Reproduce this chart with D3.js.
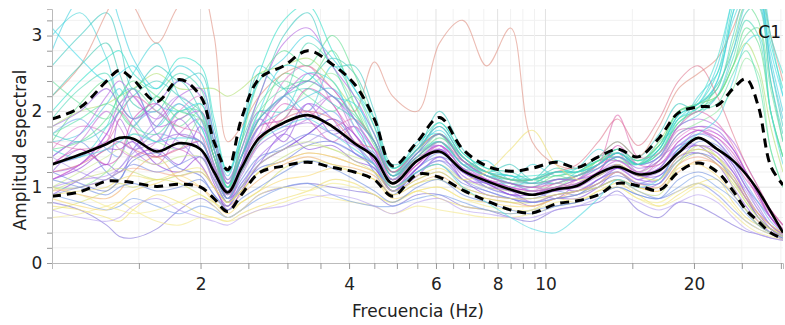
<!DOCTYPE html>
<html><head><meta charset="utf-8">
<script src="https://cdn.jsdelivr.net/npm/d3@7"></script>
<style>body{margin:0;background:#fff}svg{display:block}</style>
</head><body><svg id="c" width="785" height="325"></svg>
<script>
const freqs = [1.0,1.14,1.29,1.37,1.46,1.63,1.81,2.0,2.13,2.27,2.42,2.63,2.95,3.3,3.7,4.1,4.5,4.9,5.5,6.1,6.8,7.6,8.5,9.4,10.5,11.6,12.8,14.0,15.4,17.0,18.6,20.4,22.3,24.0,25.5,27.0,28.6,30.3];
const meanCurve  = [1.30,1.43,1.57,1.65,1.64,1.47,1.58,1.50,1.20,0.93,1.25,1.65,1.85,1.95,1.80,1.58,1.40,1.05,1.35,1.47,1.22,1.08,0.97,0.90,0.97,1.02,1.18,1.27,1.17,1.22,1.45,1.65,1.50,1.35,1.17,0.95,0.68,0.40];
const upperCurve = [1.90,2.05,2.40,2.54,2.42,2.13,2.42,2.20,1.60,1.23,1.90,2.43,2.60,2.80,2.62,2.36,1.90,1.28,1.60,1.92,1.50,1.28,1.21,1.25,1.33,1.26,1.40,1.50,1.40,1.65,1.98,2.06,2.08,2.30,2.43,2.07,1.28,1.03];
const lowerCurve = [0.88,0.94,1.08,1.08,1.06,1.01,1.04,1.00,0.85,0.68,0.90,1.19,1.28,1.33,1.26,1.20,1.10,0.88,1.17,1.13,0.96,0.82,0.70,0.66,0.78,0.82,0.90,1.05,1.02,0.96,1.20,1.32,1.20,0.95,0.70,0.55,0.40,0.32];
const traceValues = [
[3.0,3.3,2.7,2.2,2.5,2.9,2.2,1.9,1.4,1.0,1.7,2.6,2.3,2.0,2.6,2.2,1.6,1.15,1.6,1.7,1.3,1.35,1.1,1.3,1.15,1.25,1.5,1.35,1.3,1.6,1.8,2.2,2.5,3.2,3.6,3.8,3.0,2.2],
[2.6,3.0,3.3,2.9,2.3,2.6,2.4,2.5,1.8,1.2,1.6,2.2,3.0,3.3,2.6,2.6,2.0,1.3,1.5,2.0,1.5,1.2,1.3,1.1,1.35,1.25,1.4,1.6,1.4,1.7,2.1,2.0,2.4,3.3,3.7,3.6,2.6,1.8],
[1.2,1.5,1.3,1.9,1.6,1.4,1.9,1.5,1.1,0.8,1.3,1.9,1.6,2.1,1.7,1.8,1.3,0.95,1.35,1.55,1.1,1.05,0.9,0.95,0.85,1.05,1.15,1.25,1.1,1.25,1.55,1.55,1.35,1.15,0.85,0.65,0.5,0.35],
[0.8,0.7,0.5,0.35,0.33,0.45,0.7,0.85,0.75,0.6,0.7,0.9,1.0,1.05,1.0,0.95,0.9,0.75,0.9,0.9,0.75,0.7,0.6,0.55,0.7,0.75,0.8,0.95,0.7,0.6,0.8,0.75,0.62,0.5,0.42,0.38,0.33,0.3],
[1.6,2.1,2.4,2.0,1.8,2.2,1.9,2.1,1.5,1.0,1.4,1.9,2.5,2.4,2.8,2.1,1.55,1.2,1.4,1.65,1.4,1.15,1.05,1.0,1.15,1.1,1.35,1.35,1.3,1.45,1.85,2.05,2.3,2.9,3.4,3.2,2.0,1.4],
[0.75,0.7,0.6,0.55,0.7,0.9,0.8,0.65,0.6,0.55,0.65,0.75,0.85,0.95,1.1,1.05,0.9,0.8,0.95,0.85,0.75,0.7,0.65,0.7,0.85,0.8,0.95,1.05,0.9,0.75,0.9,1.05,1.1,0.8,0.6,0.5,0.45,0.4],
[1.4,1.6,1.2,1.1,1.5,1.8,2.1,1.7,1.2,0.85,1.1,1.4,1.5,1.7,1.9,1.6,1.2,0.9,1.25,1.4,1.25,1.0,0.9,0.85,0.95,0.9,1.1,1.2,1.05,1.15,1.35,1.6,1.55,1.3,1.0,0.8,0.6,0.45],
[1.1,1.3,1.6,2.0,1.8,1.4,1.5,1.3,1.0,0.75,1.2,1.6,2.1,1.9,1.6,1.8,1.5,1.1,1.4,1.45,1.35,1.1,1.0,0.9,1.05,1.0,1.2,1.45,1.15,1.35,1.75,1.75,1.6,1.35,1.1,0.9,0.7,0.5],
[1.8,2.0,2.1,2.2,2.3,2.5,2.3,2.3,2.3,2.2,2.3,2.5,2.6,2.7,2.4,2.0,1.6,1.2,1.5,1.7,1.4,1.2,1.1,1.1,1.2,1.2,1.35,1.45,1.3,1.6,2.0,2.1,2.2,2.6,2.9,2.6,1.8,1.2],
[2.2,2.6,3.3,3.6,3.4,2.9,3.4,3.6,3.0,1.6,1.8,2.2,2.5,2.6,2.3,2.0,2.65,2.2,2.0,2.9,3.2,2.6,3.1,1.6,1.3,1.25,1.4,1.6,1.4,1.8,2.3,2.5,2.7,3.1,3.5,3.6,3.0,2.4],
[1.5,1.4,1.8,2.2,2.3,1.8,2.1,1.8,1.3,0.95,1.5,2.0,2.0,2.5,2.4,1.8,1.4,1.1,1.45,1.6,1.25,1.2,1.0,1.1,1.05,1.2,1.35,1.4,1.3,1.55,1.9,2.15,2.7,3.5,4.0,3.8,3.0,2.5],
[0.9,1.1,1.3,1.2,1.4,1.5,1.3,1.8,1.4,0.85,1.0,1.3,1.7,1.5,1.55,1.35,1.25,0.95,1.15,1.4,1.1,0.9,0.85,0.75,0.85,0.85,1.0,1.2,1.0,1.05,1.4,1.45,1.3,1.0,0.75,0.55,0.4,0.3],
[1.3,1.6,2.0,1.8,1.5,1.3,1.7,1.9,1.4,0.95,1.4,2.0,1.8,1.9,2.2,1.7,1.35,1.1,1.3,1.6,1.3,1.1,1.05,0.95,1.1,1.1,1.3,1.5,1.2,1.4,1.55,1.7,1.65,1.4,1.2,0.9,0.6,0.4],
[2.2,2.6,2.9,2.5,2.1,2.0,2.4,2.0,1.4,1.05,1.6,2.5,2.3,2.4,2.7,2.5,1.9,1.2,1.45,1.85,1.45,1.25,1.2,1.1,1.25,1.2,1.4,1.45,1.35,1.55,2.0,2.1,2.35,2.8,3.3,3.4,2.4,1.6],
[0.6,0.65,0.75,0.8,0.7,0.55,0.5,0.6,0.6,0.55,0.6,0.7,0.8,0.9,0.85,0.8,0.75,0.65,0.75,0.7,0.65,0.6,0.6,0.65,0.75,0.8,0.95,1.0,0.85,0.75,0.85,1.0,0.85,0.65,0.5,0.4,0.35,0.3],
[1.0,0.9,0.85,0.95,1.2,1.4,1.1,1.0,0.85,0.75,0.9,1.1,1.3,1.4,1.3,1.25,1.15,0.9,1.05,1.15,0.95,0.85,0.8,0.75,0.85,0.95,1.0,1.1,1.0,0.95,1.2,1.35,1.3,1.1,0.85,0.6,0.45,0.35],
[1.7,1.9,1.5,1.4,1.8,2.0,1.7,1.6,1.2,0.9,1.4,1.8,2.2,1.9,2.0,1.6,1.3,1.0,1.25,1.45,1.2,1.05,1.05,0.95,1.0,1.1,1.15,1.3,1.15,1.25,1.55,1.7,1.6,1.35,1.05,0.8,0.55,0.4],
[1.0,1.0,1.2,1.4,1.7,1.6,1.5,1.9,1.6,1.0,1.2,1.6,1.9,2.3,2.5,2.1,1.6,1.05,1.35,1.6,1.3,1.15,1.05,1.0,1.0,1.15,1.25,1.4,1.2,1.35,1.7,1.85,2.0,2.3,2.7,2.5,1.5,1.0],
[3.1,2.7,2.4,2.5,2.6,2.1,2.0,2.1,1.5,1.0,1.4,2.0,2.6,2.5,2.2,2.1,1.7,1.2,1.5,1.75,1.35,1.15,1.15,1.05,1.2,1.2,1.3,1.45,1.3,1.4,1.9,2.05,2.4,3.3,3.8,3.6,2.8,2.2],
[1.2,1.3,1.7,2.0,2.3,1.7,1.5,1.6,1.15,0.8,1.0,1.4,1.7,2.1,1.9,1.45,1.3,0.95,1.25,1.5,1.15,1.0,0.95,0.8,0.9,0.95,1.05,1.25,1.1,1.1,1.5,1.55,1.5,1.25,0.9,0.6,0.45,0.35],
[1.0,1.1,1.15,1.25,1.5,1.9,2.2,1.9,1.3,0.85,1.3,1.7,1.8,2.0,2.2,1.8,1.5,1.1,1.45,1.55,1.3,1.1,0.95,1.0,0.95,1.05,1.2,1.3,1.15,1.3,1.5,1.75,1.6,1.3,1.0,0.7,0.5,0.38],
[0.7,0.8,0.95,1.05,1.0,1.1,1.05,0.9,0.8,0.7,0.8,0.95,1.25,1.35,1.3,1.2,1.1,0.9,1.05,1.1,0.95,0.85,0.8,0.8,0.9,0.95,1.05,1.2,1.0,1.0,1.3,1.45,1.3,1.05,0.8,0.6,0.45,0.38],
[0.9,0.8,0.7,0.75,0.85,0.75,0.65,0.75,0.7,0.6,0.7,0.85,1.0,1.05,0.9,0.8,0.75,0.75,0.85,0.9,0.8,0.7,0.65,0.7,0.75,0.8,0.9,1.0,0.9,0.85,1.0,1.15,1.0,0.85,0.65,0.5,0.4,0.33],
[1.5,1.8,1.7,1.5,1.4,1.6,2.0,2.2,1.7,1.05,1.3,1.7,2.4,2.6,2.1,1.7,1.35,1.0,1.3,1.5,1.2,1.1,0.95,1.0,0.95,1.1,1.3,1.35,1.2,1.35,1.65,1.8,1.7,1.5,1.2,0.9,0.6,0.4],
[1.9,2.3,2.5,2.1,1.9,2.2,2.5,2.3,1.6,1.1,1.4,1.9,2.2,2.9,2.6,2.0,1.6,1.15,1.5,1.7,1.4,1.2,1.15,1.05,1.2,1.2,1.3,1.5,1.3,1.45,1.9,2.0,2.2,2.7,3.2,3.0,2.0,1.4],
[1.4,1.2,1.1,1.25,1.45,1.7,1.6,1.3,1.0,0.75,1.05,1.3,1.5,1.6,1.75,1.55,1.3,1.0,1.2,1.35,1.2,1.0,0.9,0.8,0.9,0.95,1.1,1.2,1.05,1.1,1.4,1.5,1.4,1.2,0.95,0.7,0.5,0.38],
[2.4,2.1,1.9,2.1,2.3,2.0,1.8,2.0,1.4,0.95,1.5,2.1,2.4,2.2,2.0,2.2,1.7,1.15,1.4,1.7,1.35,1.15,1.05,1.1,1.05,1.15,1.35,1.4,1.3,1.5,2.0,2.1,2.2,2.6,3.0,3.1,2.3,1.6],
[1.1,1.25,1.5,1.5,1.6,1.3,1.2,1.4,1.05,0.7,0.95,1.3,1.5,1.7,1.9,1.7,1.35,1.0,1.25,1.5,1.2,1.05,0.9,0.9,1.0,0.95,1.1,1.25,1.15,1.15,1.45,1.55,1.45,1.2,0.9,0.65,0.45,0.32],
[1.3,1.5,1.3,1.4,1.9,2.1,1.7,1.6,1.25,0.85,1.3,1.8,1.9,2.3,2.1,1.6,1.4,1.05,1.3,1.55,1.25,1.1,1.0,0.95,1.0,1.1,1.2,1.55,1.3,1.3,1.6,1.75,1.65,1.45,1.15,0.85,0.6,0.42],
[1.6,1.7,2.1,2.3,1.9,1.6,2.0,1.8,1.3,0.9,1.3,1.8,2.0,2.2,2.3,1.9,1.45,1.1,1.4,1.6,1.3,1.2,1.05,1.05,1.05,1.15,1.25,1.4,1.3,1.4,1.8,1.95,2.2,2.8,3.4,3.5,2.6,1.9],
[0.85,0.75,0.7,0.8,0.95,1.05,1.15,1.0,0.8,0.65,0.8,0.95,1.1,1.15,1.25,1.2,1.1,0.85,0.95,1.0,0.85,0.8,0.75,0.75,0.85,0.9,1.0,1.1,1.0,0.95,1.25,1.3,1.15,0.9,0.7,0.55,0.45,0.38],
[1.2,1.05,0.95,1.1,1.35,1.45,1.25,1.15,0.9,0.75,1.0,1.25,1.35,1.55,1.6,1.45,1.25,0.95,1.2,1.3,1.05,0.95,0.85,0.8,0.85,0.9,1.05,1.15,1.05,1.05,1.35,1.45,1.35,1.1,0.85,0.6,0.45,0.35],
[0.95,1.0,1.1,1.2,1.25,1.2,1.15,1.2,1.0,0.8,0.95,1.2,1.35,1.45,1.4,1.3,1.2,0.95,1.1,1.2,1.0,0.9,0.85,0.85,0.9,0.95,1.05,1.2,1.05,1.0,1.3,1.4,1.3,1.1,0.85,0.65,0.5,0.4],
[1.4,1.7,2.2,2.4,2.2,1.9,2.2,2.3,1.7,1.1,1.5,2.2,2.9,3.1,2.6,2.2,1.7,1.2,1.5,1.8,1.4,1.2,1.1,1.05,1.1,1.15,1.3,1.45,1.3,1.4,1.8,1.9,1.8,1.6,1.3,1.0,0.7,0.5],
[2.0,2.4,2.7,2.8,2.5,2.3,2.7,2.6,1.9,1.2,1.7,2.5,3.2,3.4,2.8,2.3,1.9,1.25,1.55,1.85,1.45,1.25,1.15,1.15,1.2,1.25,1.35,1.5,1.35,1.5,1.95,2.1,2.5,3.4,3.9,3.7,2.9,2.3],
[1.0,1.2,1.4,1.5,1.4,1.3,1.4,1.4,1.1,0.8,1.0,1.3,1.5,1.6,1.5,1.4,1.3,1.0,1.2,1.3,1.1,1.0,0.95,0.95,1.0,1.05,1.15,1.3,1.15,1.1,1.35,1.5,1.4,1.1,0.8,0.6,0.45,0.35],
[1.2,1.3,1.5,1.6,1.5,1.4,1.5,1.6,1.2,0.85,1.2,1.6,1.9,2.0,1.9,1.6,1.5,1.2,1.5,1.7,1.35,1.2,1.1,1.1,1.2,1.3,1.6,1.9,1.55,1.9,2.4,2.6,2.2,1.7,1.3,1.0,0.7,0.5],
[0.9,1.0,1.1,1.2,1.3,1.2,1.3,1.4,1.1,0.8,1.05,1.35,1.55,1.7,1.6,1.45,1.3,0.95,1.2,1.35,1.1,0.95,0.85,0.8,0.85,0.9,1.0,1.1,0.95,0.85,0.95,1.05,0.9,0.7,0.55,0.45,0.38,0.32],
[1.7,1.9,2.1,2.0,1.8,1.7,2.0,2.0,1.5,1.0,1.4,2.0,2.3,2.4,2.2,1.95,1.6,1.15,1.45,1.7,1.35,1.2,1.1,1.05,1.1,1.15,1.3,1.45,1.3,1.45,1.85,2.0,2.1,2.5,2.8,2.4,1.5,1.0],
[1.1,1.3,1.7,2.1,2.2,1.8,1.9,2.0,1.5,0.95,1.3,1.8,2.2,2.5,2.3,1.9,1.5,1.05,1.35,1.55,1.25,1.1,1.0,0.95,1.0,1.05,1.2,1.35,1.2,1.25,1.6,1.75,1.7,1.5,1.2,0.9,0.6,0.42],
[0.7,0.6,0.55,0.6,0.75,0.85,0.7,0.6,0.55,0.5,0.6,0.7,0.75,0.85,0.9,0.85,0.75,0.65,0.8,0.85,0.7,0.65,0.6,0.6,0.7,0.75,0.85,0.9,0.8,0.7,0.8,0.9,0.8,0.6,0.45,0.38,0.33,0.3],
[1.0,0.9,0.75,0.7,0.65,0.7,0.8,0.9,0.75,0.6,0.7,0.9,1.0,0.95,1.05,1.0,0.9,0.8,0.95,1.0,0.85,0.75,0.7,0.7,0.8,0.85,0.9,1.0,0.85,0.8,0.95,1.05,0.95,0.75,0.55,0.45,0.38,0.32],
[1.5,1.6,1.9,2.2,2.4,2.2,2.0,1.9,1.4,1.0,1.6,2.4,2.8,2.6,3.0,2.5,1.8,1.25,1.5,1.8,1.4,1.2,1.1,1.1,1.15,1.2,1.35,1.5,1.35,1.55,2.0,2.05,2.2,2.6,3.1,2.9,2.0,1.4],
[1.1,1.0,0.9,1.0,1.05,0.95,1.0,1.1,0.9,0.7,0.85,1.0,1.2,1.35,1.25,1.1,0.95,0.8,1.0,1.1,0.9,0.8,0.7,0.65,0.75,0.8,0.9,1.0,0.9,0.85,1.1,1.2,1.1,0.9,0.7,0.5,0.4,0.33],
[1.3,1.4,1.6,1.6,1.5,1.6,1.7,1.6,1.25,0.85,1.15,1.55,1.75,1.85,1.7,1.55,1.45,1.05,1.35,1.5,1.2,1.05,0.95,0.9,0.95,1.0,1.15,1.3,1.15,1.2,1.5,1.65,1.5,1.3,1.0,0.75,0.5,0.38],
[2.8,3.5,3.6,3.2,2.7,2.3,2.6,2.4,1.7,1.15,1.7,2.4,2.7,3.0,2.7,2.3,1.8,1.25,1.5,1.8,1.4,1.2,1.15,1.1,1.2,1.2,1.3,1.45,1.3,1.5,1.95,2.1,2.6,3.5,4.0,3.6,2.7,2.0],
[1.6,1.5,1.6,1.9,2.2,2.0,1.8,1.7,1.3,0.9,1.2,1.6,2.0,2.0,1.8,1.9,1.6,1.1,1.4,1.6,1.35,1.15,1.05,1.0,1.05,1.15,1.3,1.95,1.4,1.45,1.8,2.0,1.85,1.55,1.2,0.9,0.65,0.45],
[0.95,1.1,1.2,1.25,1.2,1.1,1.15,1.2,1.0,0.8,0.95,1.2,1.4,1.55,1.5,1.35,1.2,0.95,1.1,1.2,1.0,0.9,0.85,0.85,0.9,0.95,1.0,1.1,0.95,0.9,1.3,1.55,1.4,1.0,0.7,0.5,0.4,0.35],
[1.8,2.0,2.3,2.1,1.9,2.1,2.4,2.2,1.6,1.05,1.4,1.9,2.2,2.4,2.2,1.9,1.6,1.15,1.45,1.7,1.35,1.15,1.05,1.0,1.1,1.1,1.25,1.4,1.25,1.35,1.7,1.8,1.75,1.5,1.2,0.9,0.6,0.42],
[1.7,1.6,1.8,2.0,2.2,2.4,2.2,2.0,1.5,1.0,1.4,1.9,2.2,2.3,2.1,1.9,1.6,1.15,1.4,1.6,1.3,1.15,1.1,1.1,1.2,1.15,1.3,1.45,1.3,1.5,1.95,2.1,2.3,3.0,3.5,3.4,2.4,1.7],
[0.9,0.95,1.0,1.1,1.15,1.1,1.2,1.25,1.0,0.8,0.95,1.2,1.35,1.45,1.4,1.3,1.2,1.0,1.15,1.25,1.1,1.2,1.5,1.75,1.3,1.1,1.15,1.3,1.15,1.1,1.4,1.5,1.4,1.15,0.9,0.65,0.5,0.4],
[1.3,1.4,1.5,1.6,1.7,1.6,1.65,1.6,1.2,0.85,1.2,1.6,1.8,1.9,1.7,1.5,1.3,1.0,1.2,1.3,1.0,0.8,0.6,0.45,0.4,0.6,0.85,1.1,1.0,1.1,1.5,1.7,1.9,2.4,2.9,3.0,2.0,1.3]
];
const traceColors = ["#48d4d8","#3cc8c0","#9a5ce0","#8070d8","#62dc8c","#f0e070","#6c8ce0","#d860c0","#b0e070","#e09080",
"#44e0d0","#8c50e0","#c070d8","#40c8b0","#f4e88a","#f0b070","#7aa8f0","#90e8a0","#40d8e8","#a060e8",
"#b890f0","#d8e070","#78a0e8","#e080d0","#50d8b8","#a890e8","#70e0a0","#9040d8","#d050b8","#50c8e0",
"#f8d870","#6878e0","#f0a890","#b060e0","#30e0c8","#c8e890","#e07890","#8090e8","#58e0a8","#c060e0",
"#b8a0f0","#f4ec90","#60e090","#7090e0","#a070e0","#40d0e0","#e070b0","#c8e080","#9a60e0","#48d0c0",
"#eee070","#50d8e0"];

const svg = d3.select("#c");
const L = 52, R = 783, T = 9, B = 263;
const x = d3.scaleLog().domain([1, 30.3]).range([L, R]);
const y = d3.scaleLinear().domain([0, 3.35]).range([B, T]);

const xMajor = [2,4,6,8,10,20];
const xMinor = [1.5,2.5,3,3.5,4.5,5,5.5,6.5,7,7.5,8.5,9,9.5,15,25,30];
const yMajor = [0,1,2,3];
const yMinor = d3.range(1, 17).map(i => +(i*0.2).toFixed(1)).filter(v => !yMajor.includes(v));

const g = svg.append("g");
g.selectAll(".gy").data(yMinor).join("line").attr("x1", L).attr("x2", R)
  .attr("y1", d => y(d)).attr("y2", d => y(d)).attr("stroke", "#f1f1f1");
g.selectAll(".gy2").data(yMajor.slice(1)).join("line").attr("x1", L).attr("x2", R)
  .attr("y1", d => y(d)).attr("y2", d => y(d)).attr("stroke", "#e4e4e4");
g.selectAll(".gx").data(xMinor).join("line").attr("y1", T).attr("y2", B)
  .attr("x1", d => x(d)).attr("x2", d => x(d)).attr("stroke", "#f1f1f1");
g.selectAll(".gx2").data(xMajor).join("line").attr("y1", T).attr("y2", B)
  .attr("x1", d => x(d)).attr("x2", d => x(d)).attr("stroke", "#e2e2e2");

svg.append("clipPath").attr("id", "clip").append("rect")
  .attr("x", L).attr("y", T).attr("width", R - L).attr("height", B - T);

const line = d3.line().x((d, i) => x(freqs[i])).y(d => y(d)).curve(d3.curveCatmullRom.alpha(0.5));
const plot = svg.append("g").attr("clip-path", "url(#clip)");
plot.selectAll(".tr").data(traceValues).join("path")
  .attr("d", d => line(d)).attr("fill", "none")
  .attr("stroke", (d, i) => traceColors[i % traceColors.length])
  .attr("stroke-width", 1.1).attr("stroke-opacity", 0.6);

plot.append("path").attr("d", line(upperCurve)).attr("fill", "none")
  .attr("stroke", "#000").attr("stroke-width", 3).attr("stroke-dasharray", "9,6");
plot.append("path").attr("d", line(lowerCurve)).attr("fill", "none")
  .attr("stroke", "#000").attr("stroke-width", 3).attr("stroke-dasharray", "9,6");
plot.append("path").attr("d", line(meanCurve)).attr("fill", "none")
  .attr("stroke", "#000").attr("stroke-width", 2.6);

const axisColor = "#bbb";
const xAxis = svg.append("g").attr("transform", `translate(0,${B})`);
xAxis.call(d3.axisBottom(x).tickValues(xMajor.concat(xMinor)).tickSize(6)
  .tickFormat(d => xMajor.includes(d) ? d : ""));
xAxis.select(".domain").attr("stroke", axisColor);
xAxis.selectAll(".tick line").attr("stroke", "#999");
xAxis.selectAll("text").attr("font-family", "DejaVu Sans, Verdana, sans-serif")
  .attr("font-size", 17).attr("fill", "#222").attr("dy", "1.05em");

const yAxis = svg.append("g").attr("transform", `translate(${L},0)`);
yAxis.call(d3.axisLeft(y).tickValues(yMajor.concat(yMinor)).tickSize(5)
  .tickFormat(d => yMajor.includes(d) ? d : ""));
yAxis.select(".domain").attr("stroke", axisColor);
yAxis.selectAll(".tick line").attr("stroke", "#999");
yAxis.selectAll("text").attr("font-family", "DejaVu Sans, Verdana, sans-serif")
  .attr("font-size", 17).attr("fill", "#222").attr("dx", "-0.1em");

svg.append("text").attr("x", 418).attr("y", 317).attr("text-anchor", "middle")
  .attr("font-family", "DejaVu Sans, Verdana, sans-serif").attr("font-size", 17).attr("fill", "#222")
  .text("Frecuencia (Hz)");
svg.append("text").attr("transform", "translate(26,150) rotate(-90)").attr("text-anchor", "middle")
  .attr("font-family", "DejaVu Sans, Verdana, sans-serif").attr("font-size", 17).attr("fill", "#222")
  .text("Amplitud espectral");
svg.append("text").attr("x", 781).attr("y", 38).attr("text-anchor", "end")
  .attr("font-family", "DejaVu Sans, Verdana, sans-serif").attr("font-size", 17).attr("fill", "#111")
  .text("C1");
</script></body></html>
